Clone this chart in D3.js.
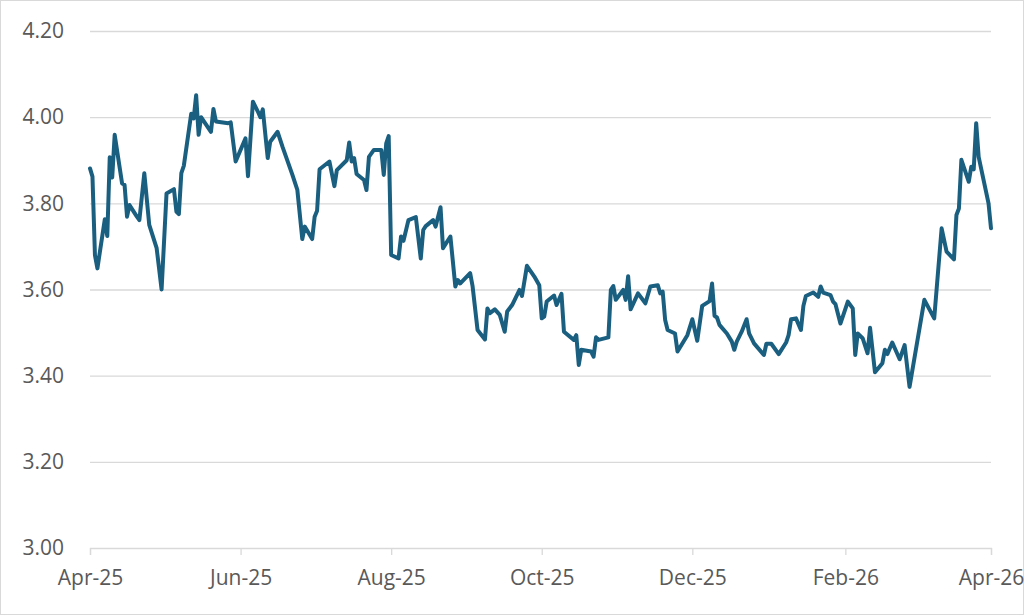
<!DOCTYPE html>
<html>
<head>
<meta charset="utf-8">
<script src="https://cdn.jsdelivr.net/npm/d3@7/dist/d3.min.js"></script>
<style>
  html, body { margin: 0; padding: 0; background: #fff; }
  svg { display: block; }
  text { font-family: "Open Sans", "Liberation Sans", sans-serif; }
</style>
</head>
<body>
<svg id="chart" width="1024" height="615"></svg>
<script>
const dates = [
"2025-04-01","2025-04-02","2025-04-03","2025-04-04","2025-04-07","2025-04-08","2025-04-09","2025-04-10","2025-04-11","2025-04-14",
"2025-04-15","2025-04-16","2025-04-17","2025-04-20","2025-04-21","2025-04-23","2025-04-25","2025-04-28","2025-04-30","2025-05-02",
"2025-05-05","2025-05-06","2025-05-07","2025-05-08","2025-05-09","2025-05-12","2025-05-13","2025-05-14","2025-05-15","2025-05-16",
"2025-05-20","2025-05-21","2025-05-22","2025-05-27","2025-05-28","2025-05-30","2025-06-03","2025-06-04","2025-06-06","2025-06-08",
"2025-06-09","2025-06-10","2025-06-12","2025-06-13","2025-06-16","2025-06-18","2025-06-22","2025-06-24","2025-06-26","2025-06-27",
"2025-06-30","2025-07-01","2025-07-02","2025-07-03","2025-07-07","2025-07-09","2025-07-10","2025-07-14","2025-07-15","2025-07-16",
"2025-07-17","2025-07-18","2025-07-21","2025-07-22","2025-07-23","2025-07-25","2025-07-28","2025-07-29","2025-07-30","2025-07-31",
"2025-08-01","2025-08-04","2025-08-05","2025-08-06","2025-08-08","2025-08-11","2025-08-13","2025-08-14","2025-08-15","2025-08-18",
"2025-08-19","2025-08-21","2025-08-22","2025-08-25","2025-08-27","2025-08-28","2025-08-29","2025-09-02","2025-09-03","2025-09-05",
"2025-09-08","2025-09-09","2025-09-10","2025-09-12","2025-09-14","2025-09-16","2025-09-17","2025-09-19","2025-09-22","2025-09-23",
"2025-09-25","2025-09-28","2025-09-30","2025-10-01","2025-10-02","2025-10-03","2025-10-06","2025-10-07","2025-10-09","2025-10-10",
"2025-10-14","2025-10-15","2025-10-16","2025-10-17","2025-10-21","2025-10-22","2025-10-23","2025-10-24","2025-10-28","2025-10-29",
"2025-10-30","2025-10-31","2025-11-03","2025-11-04","2025-11-05","2025-11-06","2025-11-09","2025-11-12","2025-11-14","2025-11-17",
"2025-11-18","2025-11-19","2025-11-20","2025-11-21","2025-11-24","2025-11-25","2025-11-29","2025-12-01","2025-12-03","2025-12-05",
"2025-12-08","2025-12-09","2025-12-10","2025-12-11","2025-12-12","2025-12-15","2025-12-17","2025-12-18","2025-12-19","2025-12-21",
"2025-12-23","2025-12-24","2025-12-26","2025-12-30","2025-12-31","2026-01-02","2026-01-05","2026-01-08","2026-01-09","2026-01-10",
"2026-01-12","2026-01-14","2026-01-15","2026-01-16","2026-01-19","2026-01-21","2026-01-22","2026-01-23","2026-01-26","2026-01-27",
"2026-01-28","2026-01-30","2026-02-02","2026-02-04","2026-02-05","2026-02-06","2026-02-08","2026-02-10","2026-02-11","2026-02-13",
"2026-02-16","2026-02-17","2026-02-18","2026-02-20","2026-02-23","2026-02-25","2026-02-27","2026-03-05","2026-03-09","2026-03-12",
"2026-03-14","2026-03-17","2026-03-18","2026-03-19","2026-03-20","2026-03-23","2026-03-24","2026-03-25","2026-03-26","2026-03-27",
"2026-03-31","2026-04-01"
];
const values = [
3.881,3.862,3.680,3.649,3.763,3.724,3.907,3.860,3.959,3.846,
3.843,3.769,3.796,3.769,3.761,3.870,3.750,3.696,3.600,3.823,
3.833,3.781,3.775,3.870,3.887,4.008,3.997,4.051,3.959,4.000,
3.966,4.019,3.990,3.986,3.988,3.897,3.951,3.863,4.036,4.013,
4.000,4.018,3.905,3.943,3.966,3.931,3.866,3.831,3.717,3.746,
3.717,3.769,3.783,3.879,3.897,3.840,3.877,3.900,3.941,3.897,
3.905,3.868,3.854,3.831,3.908,3.924,3.924,3.866,3.939,3.956,
3.680,3.672,3.723,3.713,3.761,3.768,3.672,3.738,3.747,3.761,
3.746,3.791,3.696,3.723,3.607,3.622,3.614,3.638,3.607,3.506,
3.484,3.556,3.545,3.554,3.541,3.502,3.549,3.564,3.599,3.585,
3.655,3.630,3.610,3.533,3.537,3.572,3.586,3.564,3.590,3.502,
3.483,3.494,3.425,3.460,3.456,3.444,3.489,3.483,3.489,3.599,
3.608,3.576,3.599,3.576,3.631,3.554,3.591,3.568,3.607,3.610,
3.591,3.595,3.529,3.506,3.498,3.456,3.494,3.531,3.481,3.562,
3.573,3.614,3.539,3.535,3.518,3.498,3.479,3.460,3.479,3.502,
3.531,3.498,3.475,3.448,3.474,3.474,3.450,3.477,3.494,3.531,
3.533,3.506,3.562,3.585,3.593,3.583,3.607,3.593,3.587,3.572,
3.566,3.521,3.572,3.556,3.448,3.498,3.487,3.452,3.511,3.408,
3.429,3.460,3.450,3.477,3.438,3.471,3.374,3.576,3.533,3.742,
3.688,3.670,3.773,3.788,3.901,3.850,3.885,3.879,3.986,3.908,
3.800,3.742
];
const yTicks = [3.00, 3.20, 3.40, 3.60, 3.80, 4.00, 4.20];
const xTicks = ["2025-04-01","2025-06-01","2025-08-01","2025-10-01","2025-12-01","2026-02-01","2026-04-01"];
const xDomain = ["2025-04-01","2026-04-01"];

(function () {
  const parse = d3.timeParse("%Y-%m-%d");
  const data = dates.map((d, i) => ({ date: parse(d), value: values[i] }));

  const svg = d3.select("#chart");
  const W = 1024, H = 615;
  const mLeft = 90, mRight = 991, mTop = 31, mBottom = 548;

  svg.append("rect").attr("x", 0.5).attr("y", 0.5).attr("width", W - 1).attr("height", H - 1)
    .attr("fill", "#fff").attr("stroke", "#d9d9d9").attr("stroke-width", 1);

  const x = d3.scaleTime().domain(xDomain.map(parse)).range([mLeft, mRight]);
  const y = d3.scaleLinear().domain([3.0, 4.2]).range([mBottom, mTop]);

  const grid = svg.append("g").attr("transform", `translate(${mLeft},0)`)
    .call(d3.axisLeft(y).tickValues(yTicks.slice(1)).tickSize(-(mRight - mLeft)).tickFormat(""));
  grid.select(".domain").remove();
  grid.selectAll("line").attr("stroke", "#d9d9d9").attr("stroke-width", 1.3);

  const ya = svg.append("g").attr("transform", `translate(${mLeft},0)`)
    .call(d3.axisLeft(y).tickValues(yTicks).tickSize(0).tickPadding(26).tickFormat(d3.format(".2f")));
  ya.select(".domain").remove();
  ya.selectAll("text").attr("fill", "#595959").style("font-size", "21px")
    .style("font-family", '"Open Sans", sans-serif');

  const xa = svg.append("g").attr("transform", `translate(0,${mBottom})`)
    .call(d3.axisBottom(x).tickValues(xTicks.map(parse)).tickSize(7).tickPadding(15)
      .tickFormat(d3.timeFormat("%b-%y")));
  xa.select(".domain").attr("stroke", "#d9d9d9").attr("stroke-width", 1.3);
  xa.selectAll("line").attr("stroke", "#d9d9d9").attr("stroke-width", 1.3);
  xa.selectAll("text").attr("fill", "#595959").style("font-size", "21px")
    .style("font-family", '"Open Sans", sans-serif');

  const line = d3.line().x(d => x(d.date)).y(d => y(d.value));
  svg.append("path").datum(data)
    .attr("fill", "none").attr("stroke", "#1b5f80").attr("stroke-width", 4)
    .attr("stroke-linejoin", "round").attr("stroke-linecap", "round")
    .attr("d", line);
})();
</script>
</body>
</html>
